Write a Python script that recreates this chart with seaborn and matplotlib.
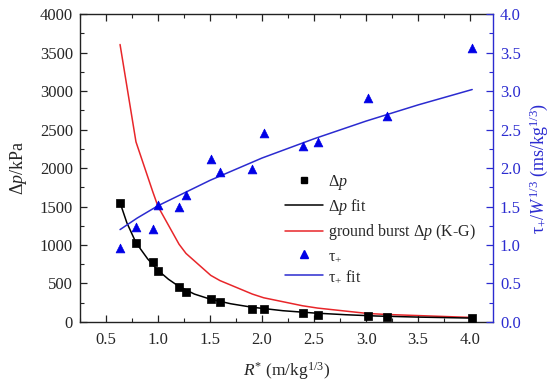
import numpy as np
import pandas as pd
import matplotlib
matplotlib.use("Agg")
import matplotlib.pyplot as plt
from matplotlib.ticker import MultipleLocator, FormatStrFormatter
from matplotlib.lines import Line2D
import seaborn as sns

# Scaled distance R* (m/kg^1/3) of the measuring points
r_scaled = [0.635, 0.788, 0.950, 1.000, 1.202, 1.269, 1.507, 1.596,
            1.907, 2.016, 2.390, 2.535, 3.016, 3.200, 4.020]
# Measured peak overpressure (kPa)
dp_meas = [1550, 1028, 778, 666, 458, 389, 293, 258,
           164, 162, 110, 93, 72, 66, 47]
# Kingery-Bulmash ground burst overpressure at the same distances (kPa)
dp_kg = [3605, 2340, 1690, 1500, 1010, 890, 605, 537,
         362, 314, 210, 180, 110, 97, 58]
# Scaled positive phase duration tau+/W^1/3 (ms/kg^1/3)
tau_meas = [0.96, 1.23, 1.21, 1.52, 1.49, 1.65, 2.12, 1.95,
            1.99, 2.46, 2.29, 2.34, 2.91, 2.67, 3.56]

# Fitted overpressure curve
r_dp_fit = [0.635, 0.70, 0.788, 0.90, 1.00, 1.10, 1.20, 1.35, 1.50,
            1.70, 1.90, 2.20, 2.50, 2.80, 3.10, 3.50, 4.02]
dp_fit = [1550, 1290, 1030, 820, 670, 555, 462, 362, 297,
          236, 192, 146, 116, 94, 77, 63, 50]
# Fitted duration curve
r_tau_fit = [0.635, 0.80, 1.00, 1.50, 2.00, 2.50, 3.00, 3.50, 4.02]
tau_fit = [1.20, 1.35, 1.51, 1.84, 2.13, 2.38, 2.61, 2.82, 3.02]

sns.set_style("ticks")
plt.rcParams["font.family"] = ["Liberation Serif", "DejaVu Serif"]
plt.rcParams["mathtext.fontset"] = "custom"
plt.rcParams["mathtext.rm"] = "Liberation Serif"
plt.rcParams["mathtext.it"] = "Liberation Serif:italic"
plt.rcParams["mathtext.bf"] = "Liberation Serif:bold"
plt.rcParams["font.size"] = 12

BLUE = "#0000e6"
BLUE_LINE = "#2b2bd0"
RED = "#e8262a"
TICK_FS = 12
LABEL_FS = 13

fig = plt.figure(figsize=(5.54, 3.81), dpi=100)
ax = fig.add_axes([0.1444, 0.155, 0.7455, 0.808])
ax2 = ax.twinx()

df_meas = pd.DataFrame({"R": r_scaled, "dp": dp_meas, "kg": dp_kg, "tau": tau_meas})
df_dpfit = pd.DataFrame({"R": r_dp_fit, "dp": dp_fit})
df_taufit = pd.DataFrame({"R": r_tau_fit, "tau": tau_fit})

sns.lineplot(data=df_meas, x="R", y="kg", ax=ax, color=RED, lw=1.1,
             sort=False, zorder=2)
sns.lineplot(data=df_dpfit, x="R", y="dp", ax=ax, color="black", lw=1.1,
             sort=False, zorder=3)
sns.scatterplot(data=df_meas, x="R", y="dp", ax=ax, marker="s", s=30,
                color="black", edgecolor="black", linewidth=0.5, zorder=4)

sns.lineplot(data=df_taufit, x="R", y="tau", ax=ax2, color=BLUE_LINE, lw=1.1,
             sort=False, zorder=3)
sns.scatterplot(data=df_meas, x="R", y="tau", ax=ax2, marker="^", s=40,
                color=BLUE, edgecolor=BLUE, linewidth=0.5, zorder=4)

ax.set_xlim(0.25, 4.22)
ax.set_ylim(0, 4000)
ax2.set_ylim(0, 4.0)

ax.xaxis.set_major_locator(MultipleLocator(0.5))
ax.xaxis.set_minor_locator(MultipleLocator(0.25))
ax.yaxis.set_major_locator(MultipleLocator(500))
ax.yaxis.set_minor_locator(MultipleLocator(250))
ax2.yaxis.set_major_locator(MultipleLocator(0.5))
ax2.yaxis.set_minor_locator(MultipleLocator(0.25))
ax2.yaxis.set_major_formatter(FormatStrFormatter("%.1f"))

ax.tick_params(axis="x", which="both", direction="in", top=True, bottom=True,
               labelsize=TICK_FS, color="#222222", pad=7)
ax.tick_params(axis="x", which="major", length=5, width=0.9)
ax.tick_params(axis="x", which="minor", length=3, width=0.8)
ax.tick_params(axis="y", which="both", direction="in", left=True, right=False,
               labelsize=TICK_FS, color="#222222", pad=5)
ax.tick_params(axis="y", which="major", length=5, width=0.9)
ax.tick_params(axis="y", which="minor", length=3, width=0.8)
ax2.tick_params(axis="y", which="both", direction="in", right=True,
                labelsize=TICK_FS, colors=BLUE_LINE, pad=5)
ax2.tick_params(axis="y", which="major", length=5, width=0.9)
ax2.tick_params(axis="y", which="minor", length=3, width=0.8)

for name in ["left", "bottom", "top"]:
    ax.spines[name].set_color("#222222")
    ax.spines[name].set_linewidth(1.0)
ax2.spines["right"].set_color(BLUE_LINE)
ax2.spines["right"].set_linewidth(1.0)
for name in ["left", "bottom", "top"]:
    ax2.spines[name].set_visible(False)
ax.spines["right"].set_visible(False)

ax.set_xlabel(r"$R^{*}$ (m/kg$^{1/3}$)", fontsize=LABEL_FS - 0.5, labelpad=9)
ax.set_ylabel(r"$\Delta p$/kPa", fontsize=LABEL_FS, labelpad=8)
ax2.set_ylabel(r"$\mathrm{\tau}_{+}$/$W^{1/3}$ (ms/kg$^{1/3}$)", fontsize=LABEL_FS,
               color=BLUE_LINE, rotation=90, labelpad=5)

handles = [
    Line2D([], [], ls="none", marker="s", ms=5, color="black"),
    Line2D([], [], color="black", lw=1.1),
    Line2D([], [], color=RED, lw=1.1),
    Line2D([], [], ls="none", marker="^", ms=5.5, color=BLUE),
    Line2D([], [], color=BLUE_LINE, lw=1.1),
]
labels = [r"$\Delta p$", r"$\Delta p$ fit", r"ground burst $\Delta p$ (K-G)",
          r"$\mathrm{\tau}_{+}$", r"$\mathrm{\tau}_{+}$ fit"]
ax2.legend(handles, labels, loc="center", bbox_to_anchor=(0.728, 0.303),
           frameon=False, fontsize=11.5, handlelength=2.4, handletextpad=0.3,
           labelspacing=0.33)

fig.savefig("out.png", dpi=100)
